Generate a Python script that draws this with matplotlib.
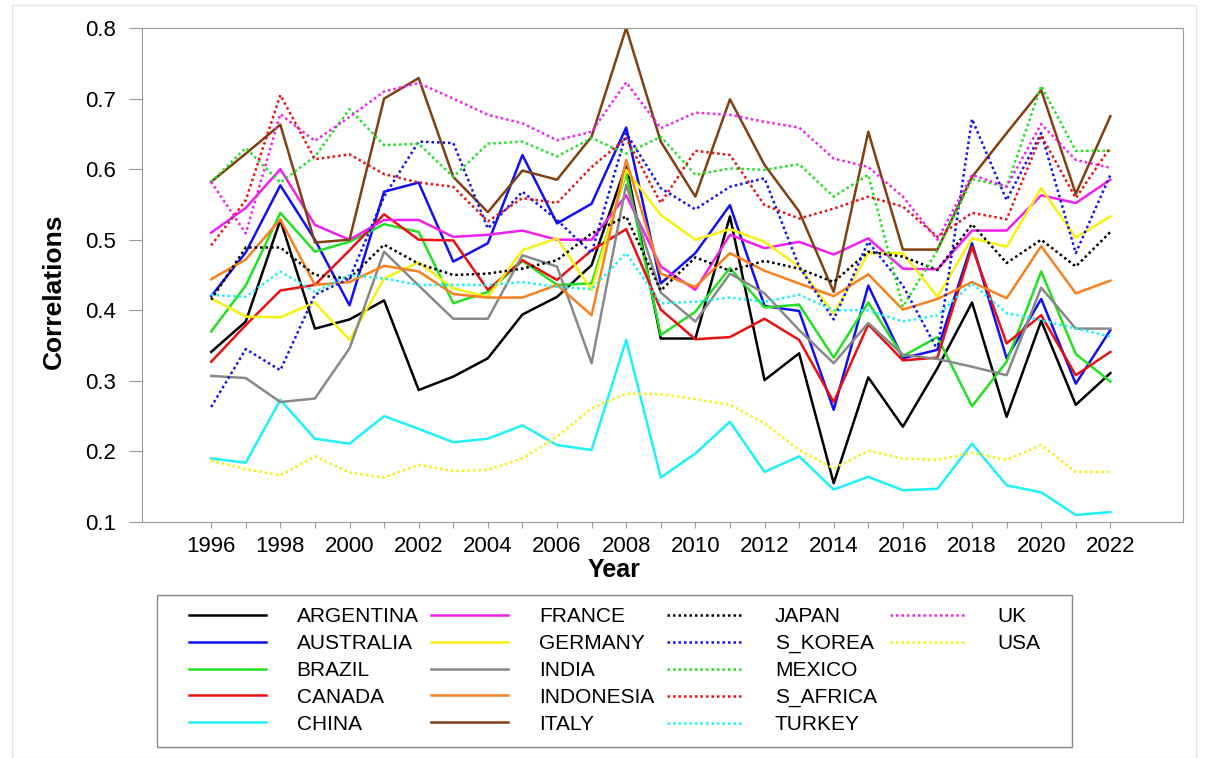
import matplotlib
matplotlib.use('Agg')
import matplotlib.pyplot as plt
from matplotlib.lines import Line2D
from matplotlib.patches import Rectangle

plt.rcParams['font.family'] = ['Liberation Sans', 'DejaVu Sans']

years = list(range(1996, 2023))

# solid series
argentina = [0.341, 0.384, 0.528, 0.374, 0.387, 0.414, 0.287, 0.306, 0.332, 0.394, 0.419, 0.464, 0.606,
             0.360, 0.360, 0.533, 0.301, 0.339, 0.155, 0.305, 0.235, 0.318, 0.411, 0.249, 0.385, 0.266, 0.311]
australia = [0.420, 0.482, 0.577, 0.500, 0.407, 0.568, 0.581, 0.469, 0.495, 0.620, 0.523, 0.551, 0.659,
             0.438, 0.481, 0.549, 0.406, 0.399, 0.259, 0.435, 0.332, 0.344, 0.495, 0.332, 0.416, 0.296, 0.372]
brazil = [0.370, 0.435, 0.538, 0.483, 0.497, 0.522, 0.511, 0.410, 0.426, 0.470, 0.436, 0.438, 0.594,
          0.365, 0.398, 0.460, 0.404, 0.408, 0.333, 0.411, 0.335, 0.362, 0.264, 0.327, 0.455, 0.338, 0.299]
canada = [0.327, 0.379, 0.428, 0.436, 0.485, 0.536, 0.500, 0.499, 0.429, 0.471, 0.443, 0.485, 0.515,
          0.401, 0.359, 0.362, 0.388, 0.358, 0.270, 0.380, 0.329, 0.333, 0.490, 0.353, 0.393, 0.308, 0.341]
china = [0.190, 0.184, 0.273, 0.218, 0.211, 0.250, 0.232, 0.213, 0.218, 0.237, 0.209, 0.202, 0.358,
         0.163, 0.197, 0.242, 0.171, 0.193, 0.146, 0.164, 0.145, 0.147, 0.211, 0.152, 0.142, 0.110, 0.114]
france = [0.510, 0.545, 0.600, 0.521, 0.500, 0.528, 0.528, 0.504, 0.507, 0.513, 0.500, 0.500, 0.563,
          0.462, 0.429, 0.507, 0.488, 0.497, 0.479, 0.502, 0.459, 0.458, 0.513, 0.513, 0.563, 0.552, 0.585]
germany = [0.417, 0.391, 0.390, 0.411, 0.358, 0.445, 0.468, 0.431, 0.419, 0.485, 0.502, 0.429, 0.599,
           0.535, 0.500, 0.515, 0.497, 0.462, 0.395, 0.481, 0.481, 0.419, 0.502, 0.490, 0.573, 0.503, 0.533]
india = [0.307, 0.304, 0.270, 0.275, 0.346, 0.483, 0.435, 0.388, 0.388, 0.478, 0.462, 0.325, 0.578,
         0.425, 0.384, 0.452, 0.424, 0.372, 0.325, 0.382, 0.337, 0.331, 0.320, 0.308, 0.432, 0.374, 0.374]
indonesia = [0.444, 0.472, 0.529, 0.436, 0.440, 0.463, 0.455, 0.423, 0.418, 0.418, 0.436, 0.393, 0.613,
             0.452, 0.433, 0.481, 0.456, 0.438, 0.420, 0.451, 0.401, 0.416, 0.440, 0.417, 0.491, 0.424, 0.442]
italy = [0.582, 0.622, 0.663, 0.496, 0.500, 0.700, 0.729, 0.589, 0.539, 0.598, 0.585, 0.646, 0.800,
         0.639, 0.561, 0.699, 0.606, 0.540, 0.426, 0.653, 0.486, 0.486, 0.589, 0.651, 0.712, 0.565, 0.675]

# dotted series
japan = [0.415, 0.489, 0.489, 0.450, 0.445, 0.493, 0.466, 0.450, 0.452, 0.459, 0.471, 0.509, 0.533,
         0.428, 0.475, 0.456, 0.470, 0.459, 0.440, 0.483, 0.476, 0.457, 0.522, 0.467, 0.500, 0.462, 0.511]
s_korea = [0.263, 0.345, 0.315, 0.422, 0.445, 0.561, 0.639, 0.637, 0.516, 0.568, 0.528, 0.481, 0.651,
           0.573, 0.543, 0.575, 0.587, 0.462, 0.387, 0.497, 0.435, 0.344, 0.671, 0.556, 0.651, 0.481, 0.592]
mexico = [0.582, 0.630, 0.581, 0.618, 0.685, 0.634, 0.636, 0.589, 0.636, 0.639, 0.618, 0.644, 0.622,
          0.646, 0.592, 0.601, 0.599, 0.607, 0.561, 0.592, 0.405, 0.485, 0.586, 0.575, 0.718, 0.626, 0.626]
s_africa = [0.492, 0.556, 0.705, 0.614, 0.621, 0.593, 0.581, 0.575, 0.526, 0.559, 0.552, 0.603, 0.644,
            0.552, 0.626, 0.620, 0.549, 0.530, 0.544, 0.561, 0.547, 0.504, 0.538, 0.529, 0.648, 0.559, 0.631]
turkey = [0.422, 0.419, 0.455, 0.426, 0.450, 0.445, 0.436, 0.436, 0.436, 0.440, 0.433, 0.430, 0.481,
          0.410, 0.412, 0.418, 0.412, 0.422, 0.400, 0.400, 0.384, 0.393, 0.438, 0.396, 0.386, 0.374, 0.363]
uk = [0.582, 0.509, 0.678, 0.640, 0.674, 0.710, 0.722, 0.700, 0.677, 0.665, 0.641, 0.653, 0.723,
      0.658, 0.680, 0.677, 0.667, 0.659, 0.615, 0.603, 0.561, 0.500, 0.592, 0.575, 0.664, 0.613, 0.602]
usa = [0.187, 0.175, 0.166, 0.193, 0.170, 0.163, 0.181, 0.172, 0.174, 0.190, 0.221, 0.261, 0.282,
       0.281, 0.274, 0.266, 0.240, 0.202, 0.176, 0.201, 0.190, 0.188, 0.198, 0.188, 0.209, 0.171, 0.171]

names = ['ARGENTINA', 'AUSTRALIA', 'BRAZIL', 'CANADA', 'CHINA',
         'FRANCE', 'GERMANY', 'INDIA', 'INDONESIA', 'ITALY',
         'JAPAN', 'S_KOREA', 'MEXICO', 'S_AFRICA', 'TURKEY', 'UK', 'USA']
series = [argentina, australia, brazil, canada, china,
          france, germany, india, indonesia, italy,
          japan, s_korea, mexico, s_africa, turkey, uk, usa]
colors = ['#000000', '#1010f0', '#22e022', '#e81010', '#20f0f8',
          '#f020f0', '#f8f010', '#888888', '#f88020', '#804010',
          '#000000', '#1010f0', '#22e022', '#e81010', '#20f0f8', '#f020f0', '#f8f010']
styles = ['-'] * 10 + [(0, (1, 1.2))] * 7

W, H = 1208, 758
fig = plt.figure(figsize=(W / 100, H / 100), dpi=100)
ax = fig.add_axes([142 / W, 1 - 522 / H, (1183 - 142) / W, (522 - 28) / H])

for name, vals, c, ls in zip(names, series, colors, styles):
    ax.plot(years, vals, color=c, linestyle=ls, linewidth=1.8, label=name)

ax.set_xlim(1994, 2024.1)
ax.set_ylim(0.1, 0.8)
ax.set_xticks(years)
ax.set_xticklabels([str(y) if y % 2 == 0 else '' for y in years])
ax.set_yticks([0.1, 0.2, 0.3, 0.4, 0.5, 0.6, 0.7, 0.8])
ax.tick_params(axis='y', length=9.5, width=0.8, color='#999999', pad=9, labelsize=16)
ax.tick_params(axis='x', length=4, width=0.8, color='#999999', pad=6, labelsize=16)
for s in ax.spines.values():
    s.set_color('#999999')
    s.set_linewidth(0.8)

fig.text(54 / W, 1 - 291 / H, 'Correlations', fontsize=19, fontweight='bold',
         rotation=90, ha='center', va='center')
fig.text(614 / W, 1 - 570 / H, 'Year', fontsize=18, fontweight='bold', ha='center', va='center')

handles, labels = ax.get_legend_handles_labels()
for i in range(3):
    handles.append(Line2D([], [], color='none'))
    labels.append('')
leg = fig.legend(handles, labels, ncol=4, loc='upper left',
                 bbox_to_anchor=(189 / W, 1 - 607 / H), borderaxespad=0, borderpad=0,
                 fontsize=15, handlelength=3.7, handletextpad=1.47, columnspacing=0.61,
                 labelspacing=0.38, frameon=False)

# legend box
fig.patches.append(Rectangle((157 / W, 1 - 747 / H), (1072 - 157) / W, (747 - 595) / H,
                             transform=fig.transFigure, fill=False,
                             edgecolor='#888888', linewidth=1))
# faint outer border
fig.patches.append(Rectangle((12 / W, 0), (1196 - 12) / W, 1 - 5 / H,
                             transform=fig.transFigure, fill=False,
                             edgecolor='#e4e4e4', linewidth=1))

fig.savefig('out.png', dpi=100)
